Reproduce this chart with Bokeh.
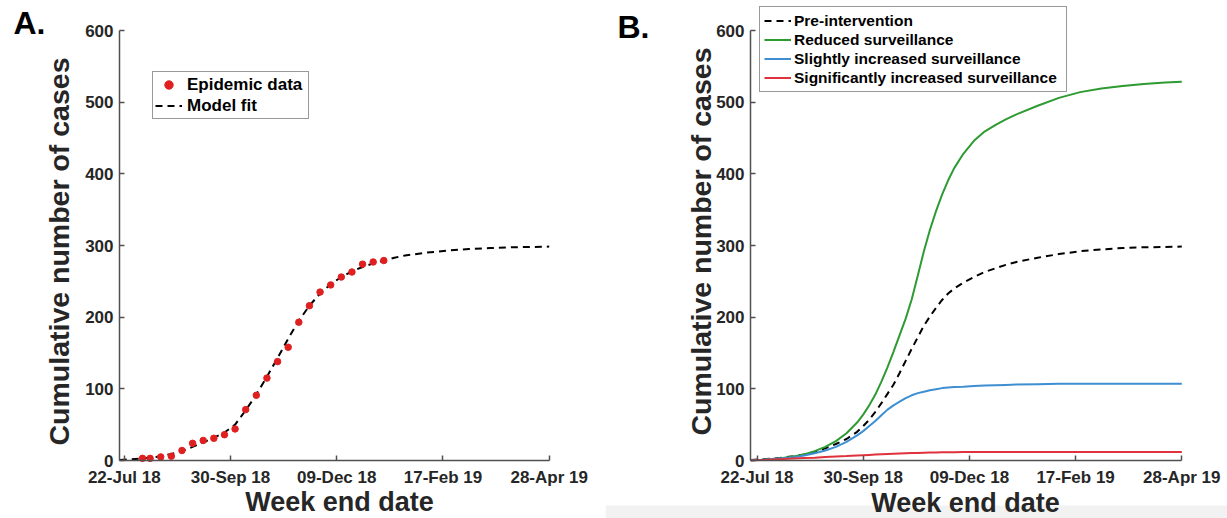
import math
import pandas as pd
from bokeh.plotting import figure
from bokeh.layouts import row
from bokeh.models import Range1d, FixedTicker, Legend, LegendItem, Label, BoxAnnotation
from bokeh.embed import file_html
from bokeh.resources import INLINE

# ---------------- data ----------------
# Panel A: weekly epidemic data
epi_dates = ["2018-08-03", "2018-08-08", "2018-08-15", "2018-08-22", "2018-08-29",
             "2018-09-05", "2018-09-12", "2018-09-19", "2018-09-26", "2018-10-03",
             "2018-10-10", "2018-10-17", "2018-10-24", "2018-10-31", "2018-11-07",
             "2018-11-14", "2018-11-21", "2018-11-28", "2018-12-05", "2018-12-12",
             "2018-12-19", "2018-12-26", "2019-01-02", "2019-01-09"]
epi_cases = [3, 3, 5, 6, 14, 24, 28, 31, 36, 44, 71, 91, 115, 138, 158,
             193, 216, 235, 245, 256, 263, 274, 277, 279]

# Panel A: model fit
fit_dates = ["2018-07-19", "2018-07-25", "2018-08-01", "2018-08-08", "2018-08-15",
             "2018-08-22", "2018-08-29", "2018-09-05", "2018-09-12", "2018-09-19",
             "2018-09-26", "2018-10-03", "2018-10-10", "2018-10-17", "2018-10-24",
             "2018-10-31", "2018-11-07", "2018-11-14", "2018-11-21", "2018-11-28",
             "2018-12-05", "2018-12-12", "2018-12-19", "2018-12-26", "2019-01-02",
             "2019-01-09", "2019-01-16", "2019-01-23", "2019-02-06", "2019-02-20",
             "2019-03-06", "2019-03-20", "2019-04-03", "2019-04-17", "2019-04-28"]
fit_cases = [0.8, 1.5, 2.5, 4, 6, 9, 13, 19, 25, 32, 39, 50, 70, 92, 117,
             143, 170, 195, 216, 233, 246, 256, 264, 270, 275, 279, 283, 286,
             290, 293, 295, 296.5, 297.5, 298, 298.5]

# Panel B: scenario projections
scen_dates = ["2018-07-18", "2018-07-25", "2018-08-01", "2018-08-08", "2018-08-15",
              "2018-08-22", "2018-08-29", "2018-09-05", "2018-09-12", "2018-09-19",
              "2018-09-26", "2018-09-30", "2018-10-04", "2018-10-08", "2018-10-12",
              "2018-10-16", "2018-10-20", "2018-10-24", "2018-10-28", "2018-11-01",
              "2018-11-05", "2018-11-09", "2018-11-13", "2018-11-17", "2018-11-21",
              "2018-11-25", "2018-11-29", "2018-12-05", "2018-12-12", "2018-12-19",
              "2018-12-26", "2019-01-02", "2019-01-09", "2019-01-23", "2019-02-06",
              "2019-02-20", "2019-03-06", "2019-03-20", "2019-04-03", "2019-04-17",
              "2019-04-28"]
pre_intervention = [0.8, 1.5, 2.5, 4, 6, 8.5, 12, 17, 23, 30, 40, 48, 57, 68, 80,
                    93, 106, 122, 139, 156, 172, 188, 201, 213, 224, 233, 240, 248,
                    256, 263, 268, 273, 277, 283, 288, 292, 294.5, 296.5, 297.5, 298, 298.5]
reduced = [0.5, 1, 2, 3.5, 5.5, 8.5, 13, 19, 27, 38, 53, 64, 77, 92, 110, 130, 152,
           175, 198, 225, 258, 292, 322, 348, 371, 391, 408, 428, 446, 459, 468, 476,
           483, 495, 506, 514, 519, 522.5, 525.5, 527.5, 528.5]
slightly_increased = [0.5, 1, 2, 3, 4.5, 7, 10, 14, 19, 26, 35, 41, 48, 55, 63, 71,
                      77, 82, 87, 91, 94, 96, 98, 99.5, 101, 102, 102.5, 103, 104,
                      104.5, 105, 105.5, 106, 106.5, 107, 107, 107, 107, 107, 107, 107]
significantly_increased = [0.3, 0.8, 1.5, 2, 2.7, 3.4, 4, 4.8, 5.5, 6.2, 7, 7.4, 7.8,
                           8.2, 8.6, 9, 9.4, 9.7, 10, 10.3, 10.6, 10.8, 11, 11.2, 11.4,
                           11.5, 11.6, 11.7, 11.8, 11.9, 12, 12, 12, 12, 12, 12, 12, 12,
                           12, 12, 12]

tick_dates = ["2018-07-22", "2018-09-30", "2018-12-09", "2019-02-17", "2019-04-28"]
tick_labels = ["22-Jul 18", "30-Sep 18", "09-Dec 18", "17-Feb 19", "28-Apr 19"]
y_ticks = [0, 100, 200, 300, 400, 500, 600]

# ---------------- style / layout ----------------
FONT = "Liberation Sans"
AXIS_COL = "#505050"
TEXT_COL = "#262626"
H = 518
Y0_PX, Y600_PX = 460, 30        # canvas rows of y=0 and y=600


def ms(d):
    return pd.Timestamp(d).value // 10**6


tick_ms = [ms(d) for d in tick_dates]
overrides = {t: lab for t, lab in zip(tick_ms, tick_labels)}


def make_fig(width, px_axis_left, px_first_tick, px_last_tick):
    # pixel -> data mapping so that the frame covers the whole canvas
    kx = (px_last_tick - px_first_tick) / (tick_ms[-1] - tick_ms[0])
    x_start = tick_ms[0] - px_first_tick / kx
    x_end = tick_ms[0] + (width - px_first_tick) / kx
    x_axis = tick_ms[0] - (px_first_tick - px_axis_left) / kx
    ky = (Y0_PX - Y600_PX) / 600.0
    y_start = -(H - Y0_PX) / ky
    y_end = Y0_PX / ky

    p = figure(width=width, height=H, x_axis_type="datetime",
               output_backend="svg", toolbar_location=None,
               x_range=Range1d(x_start, x_end), y_range=Range1d(y_start, y_end))
    p.min_border = 0
    p.outline_line_color = None
    p.grid.grid_line_color = None
    p.background_fill_color = "white"
    p.border_fill_color = "white"
    for ax in (p.xaxis[0], p.yaxis[0]):
        ax.axis_line_color = AXIS_COL
        ax.axis_line_width = 1.5
        ax.major_tick_line_color = AXIS_COL
        ax.major_tick_line_width = 1.5
        ax.major_tick_in = 5
        ax.major_tick_out = 0
        ax.minor_tick_line_color = None
        ax.major_label_text_font = FONT
        ax.major_label_text_font_style = "bold"
        ax.major_label_text_font_size = "17px"
        ax.major_label_text_color = TEXT_COL
    xa, ya = p.xaxis[0], p.yaxis[0]
    xa.ticker = FixedTicker(ticks=tick_ms)
    xa.major_label_overrides = overrides
    xa.major_label_standoff = 7
    xa.fixed_location = 0
    xa.bounds = (x_axis, tick_ms[-1])
    ya.ticker = FixedTicker(ticks=y_ticks)
    ya.major_label_standoff = 6
    ya.fixed_location = x_axis
    ya.bounds = (0, 600)
    return p


def add_text(p, x, y_canvas, text, size, angle=0.0, align="left", color=TEXT_COL):
    # y_canvas: visual middle of the text, measured from the top of the canvas
    p.add_layout(Label(x=x, y=H - y_canvas, x_units="screen", y_units="screen",
                       text=text, angle=angle, text_align=align, text_baseline="middle",
                       text_font=FONT, text_font_style="bold", text_font_size=size,
                       text_color=color))


# ---------------- panel A ----------------
WA = 605
pa = make_fig(WA, 119, 123.8, 548.7)
fit_r = pa.line(pd.to_datetime(fit_dates), fit_cases, line_color="black",
                line_width=2, line_dash="7 5")
epi_r = pa.scatter(pd.to_datetime(epi_dates), epi_cases, size=6.5,
                   fill_color="#e02020", line_color="#e02020")
leg_a = Legend(items=[LegendItem(label="Epidemic data", renderers=[epi_r]),
                      LegendItem(label="Model fit", renderers=[fit_r])],
               location=(152, H - 119), padding=2, spacing=0, margin=0,
               label_height=21, glyph_height=21, glyph_width=27, label_standoff=5,
               label_width=119,
               label_text_font=FONT, label_text_font_style="bold",
               label_text_font_size="17px", label_text_color="black",
               border_line_color="#333333", border_line_width=1.2,
               background_fill_alpha=1.0)
pa.add_layout(leg_a, "center")
add_text(pa, 13, 22, "A.", "32px", color="black")
add_text(pa, 58, 251, "Cumulative number of cases", "28.5px", angle=math.pi / 2,
         align="center")
add_text(pa, 339, 501, "Week end date", "27px", align="center")

# ---------------- panel B ----------------
WB = 1227 - WA
OFF = WA
pb = make_fig(WB, 750 - OFF, 756.5 - OFF, 1181.3 - OFF)
pb.add_layout(BoxAnnotation(left=0, right=WB, top=H - 505, bottom=0,
                            left_units="screen", right_units="screen",
                            top_units="screen", bottom_units="screen",
                            fill_color="#f2f2f2", fill_alpha=1.0, line_color=None,
                            level="underlay"))
sd = pd.to_datetime(scen_dates)
r_pre = pb.line(sd, pre_intervention, line_color="black", line_width=2, line_dash="7 5")
r_red = pb.line(sd, reduced, line_color="#2e9a32", line_width=2)
r_sli = pb.line(sd, slightly_increased, line_color="#3d8fd1", line_width=2)
r_sig = pb.line(sd, significantly_increased, line_color="#e0323c", line_width=2)
leg_b = Legend(items=[LegendItem(label="Pre-intervention", renderers=[r_pre]),
                      LegendItem(label="Reduced surveillance", renderers=[r_red]),
                      LegendItem(label="Slightly increased surveillance", renderers=[r_sli]),
                      LegendItem(label="Significantly increased surveillance", renderers=[r_sig])],
               location=(759 - OFF, H - 92), padding=4, spacing=0, margin=0,
               label_height=19, glyph_height=19, glyph_width=27, label_standoff=3,
               label_width=268,
               label_text_font=FONT, label_text_font_style="bold",
               label_text_font_size="15.5px", label_text_color="black",
               border_line_color="#333333", border_line_width=1.2,
               background_fill_alpha=1.0)
pb.add_layout(leg_b, "center")
add_text(pb, 617 - OFF, 26, "B.", "32px", color="black")
add_text(pb, 700 - OFF, 241, "Cumulative number of cases", "28.5px", angle=math.pi / 2,
         align="center")
add_text(pb, 965 - OFF, 502, "Week end date", "27px", align="center")

layout = row(pa, pb)
open("out.html", "w").write(file_html(layout, INLINE))
